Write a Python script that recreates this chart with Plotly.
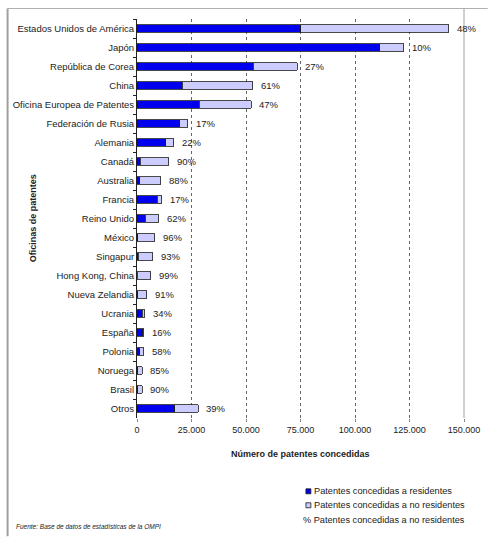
import plotly.graph_objects as go

categories = ["Estados Unidos de América", "Japón", "República de Corea", "China",
              "Oficina Europea de Patentes", "Federación de Rusia", "Alemania", "Canadá",
              "Australia", "Francia", "Reino Unido", "México", "Singapur",
              "Hong Kong, China", "Nueva Zelandia", "Ucrania", "España", "Polonia",
              "Noruega", "Brasil", "Otros"]
residents = [75000, 111400, 53400, 20800, 28500, 19700, 13100, 1600, 1300, 9400, 3800,
             300, 500, 100, 400, 2400, 2700, 1300, 400, 250, 17400]
non_residents = [68000, 11000, 20000, 32200, 24000, 3600, 3700, 12900, 9600, 1900, 6200,
                 7850, 6700, 6200, 4100, 1200, 500, 1700, 2100, 2250, 10600]
pct_labels = ["48%", "10%", "27%", "61%", "47%", "17%", "22%", "90%", "88%", "17%", "62%",
              "96%", "93%", "99%", "91%", "34%", "16%", "58%", "85%", "90%", "39%"]
x_ticks = [0, 25000, 50000, 75000, 100000, 125000, 150000]

FONT = "Liberation Sans, Arial, sans-serif"
W, H = 492, 537
L, R, T, B = 137, 468, 18.5, 418.5


def px(x):
    return (x - L) / (R - L)


def py(y):
    return (B - y) / (B - T)


fig = go.Figure()
fig.add_trace(go.Bar(y=categories, x=residents, orientation="h", name="Patentes concedidas a residentes",
                     marker=dict(color="#0000EE", line=dict(color="#1a1a1a", width=0.8)), width=0.42))
fig.add_trace(go.Bar(y=categories, x=non_residents, orientation="h", name="Patentes concedidas a no residentes",
                     marker=dict(color="#CCCCFF", line=dict(color="#1a1a1a", width=0.8)), width=0.42))

annotations = []
for c, r, n, p in zip(categories, residents, non_residents, pct_labels):
    annotations.append(dict(x=r + n, y=c, xref="x", yref="y", text=p, showarrow=False,
                            xanchor="left", yanchor="middle", xshift=6,
                            font=dict(size=9.5, color="#222", family=FONT)))


def note(x, y, text, size, xanchor="left", angle=0):
    return dict(x=px(x), y=py(y), xref="paper", yref="paper", text=text, showarrow=False,
                xanchor=xanchor, yanchor="middle", textangle=angle,
                font=dict(size=size, color="#222", family=FONT))


annotations += [
    note(32, 218, "<b>Oficinas de patentes</b>", 9, "center", -90),
    note(302, 455, "<b>Número de patentes concedidas</b>", 9, "center"),
    note(314, 492, "Patentes concedidas a residentes", 9.2),
    note(314, 506, "Patentes concedidas a no residentes", 9.2),
    note(303, 521, "% Patentes concedidas a no residentes", 9.2),
    note(12, 527, "<i>Fuente: Base de datos de estadísticas de la OMPI</i>", 6.5),
]

shapes = [
    dict(type="line", xref="paper", yref="paper", x0=px(6), x1=px(6), y0=py(8), y1=py(537),
         line=dict(color="#A0A0A0", width=2)),
    dict(type="line", xref="paper", yref="paper", x0=px(6), x1=px(492), y0=py(8), y1=py(8),
         line=dict(color="#B0B0B0", width=1)),
    dict(type="line", xref="paper", yref="paper", x0=1, x1=1, y0=py(8), y1=0,
         line=dict(color="#A0A0A0", width=1)),
    dict(type="rect", xref="paper", yref="paper", x0=px(308), x1=px(313), y0=py(489.5), y1=py(494.5),
         fillcolor="#0000EE", line=dict(color="#1a1a1a", width=0.8)),
    dict(type="rect", xref="paper", yref="paper", x0=px(308), x1=px(313), y0=py(503.5), y1=py(508.5),
         fillcolor="#CCCCFF", line=dict(color="#1a1a1a", width=0.8)),
]

fig.update_layout(
    width=W, height=H, barmode="stack", showlegend=False,
    margin=dict(l=L, r=W - R, t=T, b=H - B),
    paper_bgcolor="white", plot_bgcolor="white",
    separators=",.",
    font=dict(family=FONT, size=9.5, color="#222"),
    annotations=annotations, shapes=shapes,
    xaxis=dict(range=[0, 150000], tickvals=x_ticks, tickformat=",d",
               showgrid=True, gridcolor="#666", griddash="dot", gridwidth=1,
               zeroline=False, showline=False, ticks="outside", ticklen=3, tickcolor="#888",
               tickfont=dict(size=9, color="#222")),
    yaxis=dict(autorange="reversed", showline=True, linecolor="#222", linewidth=1,
               ticks="outside", ticklen=3, tickcolor="#222", tickson="boundaries",
               showgrid=False, tickfont=dict(size=9.5, color="#222")),
    bargap=0.58,
)

fig.write_html("out.html")
